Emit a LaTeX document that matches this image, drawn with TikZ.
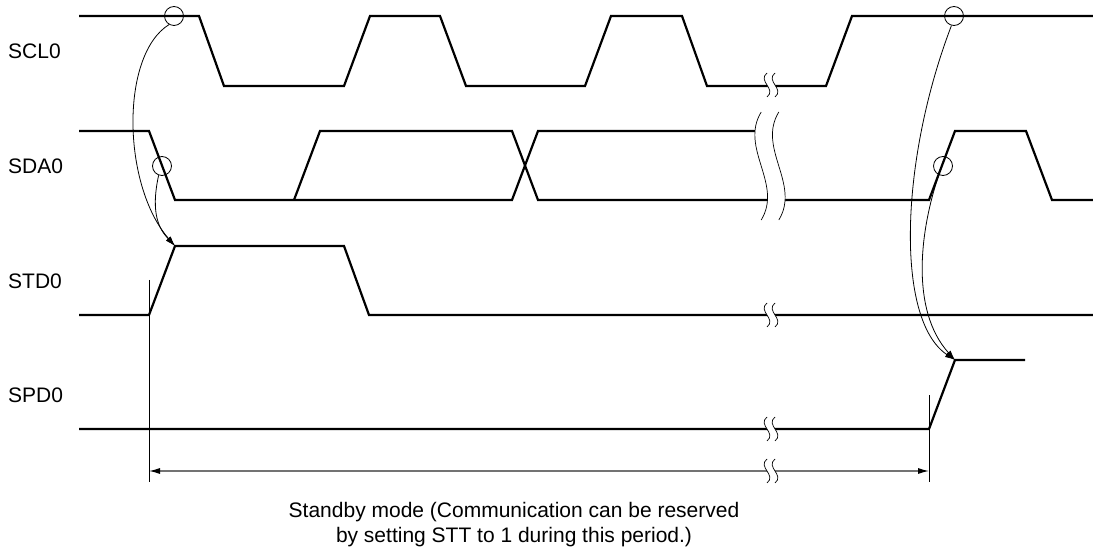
\documentclass[tikz,border=0pt]{standalone}
\usepackage{fontspec}
\setmainfont{Liberation Sans}
\usetikzlibrary{arrows.meta}

\tikzset{
    brk/.pic={
        \fill[white] (-4,-12) .. controls (-14,-4) and (6,4) .. (-4,12)
            -- (4,12) .. controls (14,4) and (-6,-4) .. (4,-12) -- cycle;
        \draw[line width=0.7pt] (-4,-12) .. controls (-14,-4) and (6,4) .. (-4,12);
        \draw[line width=0.7pt] (4,-12) .. controls (-6,-4) and (14,4) .. (4,12);
    }
}

\begin{document}
\begin{tikzpicture}[
    x=1pt, y=-1pt,
    sig/.style={line width=2.2pt, line join=miter},
    ring/.style={circle, draw, line width=0.8pt, minimum size=19pt, inner sep=0pt},
    flow/.style={line width=0.8pt, -{Latex[length=10pt,width=6pt]}},
    guide/.style={line width=0.9pt},
    span/.style={line width=1.2pt, draw=black!55, {Latex[black,length=11pt,width=6pt]}-{Latex[black,length=11pt,width=6pt]}},
    every node/.style={font=\fontsize{21}{25}\selectfont}
]
\useasboundingbox (0,0) rectangle (1093,548);

\node[anchor=west, inner sep=0pt] (lscl) at (8,51) {SCL0};
\node[anchor=west, inner sep=0pt] (lsda) at (8,166) {SDA0};
\node[anchor=west, inner sep=0pt] (lstd) at (8,281) {STD0};
\node[anchor=west, inner sep=0pt] (lspd) at (8,395) {SPD0};

\draw[sig] (79,16) -- (199,16) -- (224,86) -- (344,86) -- (370,16) -- (440,16)
    -- (466,86) -- (585,86) -- (611,16) -- (682,16) -- (707,86) -- (826,86)
    -- (852,16) -- (1093,16);
\draw[sig] (79,131) -- (149,131) -- (175,200) -- (512,200) -- (538,131) -- (770,131);
\draw[sig] (294,200) -- (320,131) -- (512,131) -- (538,200) -- (929,200)
    -- (955,131) -- (1026,131) -- (1052,200) -- (1093,200);
\draw[sig] (79,315) -- (149,315) -- (175,246) -- (344,246) -- (369,315) -- (1093,315);
\draw[sig] (79,429) -- (929,429) -- (955,360) -- (1025,360);

\coordinate (stdup) at (175,246);
\coordinate (spdup) at (955,360);
\coordinate (t0) at (149,471);
\coordinate (t1) at (929,471);

\draw[guide] (149,280) -- (149,482);
\draw[guide] (929,395) -- (929,482);
\draw[span] (t0) -- (t1);

\pic at (771,85) {brk};
\pic[xscale=2.2, yscale=4.5] at (770,166) {brk};
\pic at (771,315) {brk};
\pic at (771,429) {brk};
\pic at (771,471) {brk};

\node[ring] (c1) at (174,16) {};
\node[ring] (c2) at (162,166) {};
\node[ring] (c3) at (954,16) {};
\node[ring] (c4) at (943,166) {};

\draw[flow] (c1.240) .. controls (120,55) and (122,185) .. (stdup);
\draw[flow] (c2.250) .. controls (150,215) and (160,230) .. (stdup);
\draw[flow] (c3.255) .. controls (900,160) and (895,320) .. (spdup);
\draw[flow] (c4.245) .. controls (920,230) and (910,310) .. (spdup);

\node[align=center, anchor=base, inner sep=0pt] (note) at (514,542)
    {Standby mode (Communication can be reserved\\by setting STT to 1 during this period.)};
\end{tikzpicture}
\end{document}
